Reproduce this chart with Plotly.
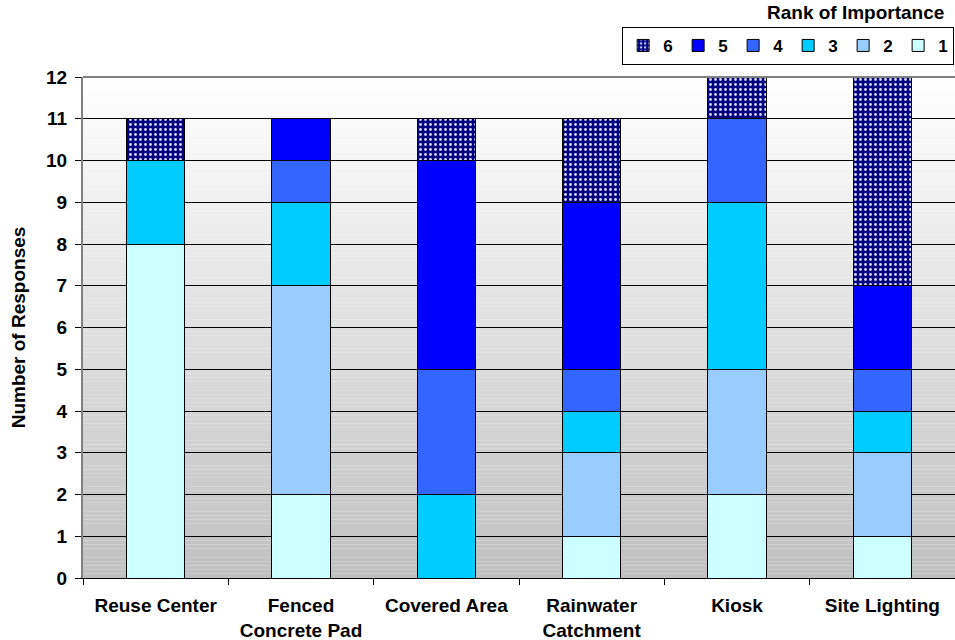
import plotly.graph_objects as go

categories = ["Reuse Center", "Fenced<br>Concrete Pad", "Covered Area",
              "Rainwater<br>Catchment", "Kiosk", "Site Lighting"]
rank_names = ["1", "2", "3", "4", "5", "6"]
rank1 = [8, 2, 0, 1, 2, 1]
rank2 = [0, 5, 0, 2, 3, 2]
rank3 = [2, 2, 2, 1, 4, 1]
rank4 = [0, 1, 3, 1, 2, 1]
rank5 = [0, 1, 5, 4, 0, 2]
rank6 = [1, 0, 1, 2, 1, 5]
series = [rank1, rank2, rank3, rank4, rank5, rank6]
colors = ["#CCFFFF", "#99CCFF", "#00CCFF", "#3366FF", "#0000FF", "#000080"]
y_ticks = list(range(0, 13))

FONT = "Liberation Sans, Arial, sans-serif"

fig = go.Figure()
for name, vals, col in zip(rank_names, series, colors):
    marker = dict(color=col, line=dict(color="black", width=1))
    if name == "6":
        marker["pattern"] = dict(shape=".", bgcolor="#000080", fgcolor="#D8D8FF",
                                 size=5, solidity=0.25, fillmode="replace")
    fig.add_trace(go.Bar(x=categories, y=vals, name=name, marker=marker,
                         width=0.4))

# vertical gradient background (white -> grey)
shapes = []
n = 120
for i in range(n):
    y0 = 12 * i / n
    y1 = 12 * (i + 1) / n
    t = (i + 0.5) / n  # 0 bottom, 1 top
    v = int(round(192 + (255 - 192) * t))
    shapes.append(dict(type="rect", xref="x domain", yref="y", x0=0, x1=1,
                       y0=y0, y1=y1, fillcolor=f"rgb({v},{v},{v})",
                       line=dict(width=0), layer="below"))
# grey top border of plot area
shapes.append(dict(type="line", xref="x domain", yref="y domain", x0=0, x1=1,
                   y0=1, y1=1, line=dict(color="#808080", width=2)))

fig.update_layout(
    width=955, height=640,
    margin=dict(l=83, r=0, t=77, b=62, autoexpand=False),
    barmode="stack",
    paper_bgcolor="white",
    plot_bgcolor="white",
    font=dict(family=FONT, size=18, color="black"),
    shapes=shapes,
    showlegend=True,
    legend=dict(orientation="h", traceorder="reversed",
                x=0.999, xanchor="right", y=1.1, yanchor="top",
                bordercolor="black", borderwidth=1, bgcolor="white",
                font=dict(family=FONT, size=17, color="black", weight="bold"),
                itemwidth=30, entrywidth=10, entrywidthmode="pixels",
                tracegroupgap=0),
    annotations=[dict(text="<b>Rank of Importance</b>", xref="paper", yref="paper",
                      x=0.99, xanchor="right", y=1.104, yanchor="bottom",
                      showarrow=False, font=dict(family=FONT, size=19, color="black"))],
)
fig.update_xaxes(showline=True, linecolor="black", linewidth=1,
                 ticks="outside", tickson="boundaries", ticklen=6,
                 tickcolor="black", ticklabelstandoff=10,
                 tickfont=dict(family=FONT, size=19, color="black", weight="bold"),
                 showgrid=False)
fig.update_yaxes(range=[0, 12], tickvals=y_ticks, showgrid=True,
                 gridcolor="black", gridwidth=1, showline=True,
                 linecolor="#808080", linewidth=2, ticks="outside", ticklen=6,
                 tickcolor="black", zeroline=False, ticklabelstandoff=4,
                 tickfont=dict(family=FONT, size=19, color="black", weight="bold"),
                 title=dict(text="Number of Responses", standoff=15,
                            font=dict(family=FONT, size=19, color="black",
                                      weight="bold")))

fig.write_html("out.html", config={"displayModeBar": False},
               post_script="document.body.style.margin='0';"
                           "document.body.style.overflow='hidden';")
